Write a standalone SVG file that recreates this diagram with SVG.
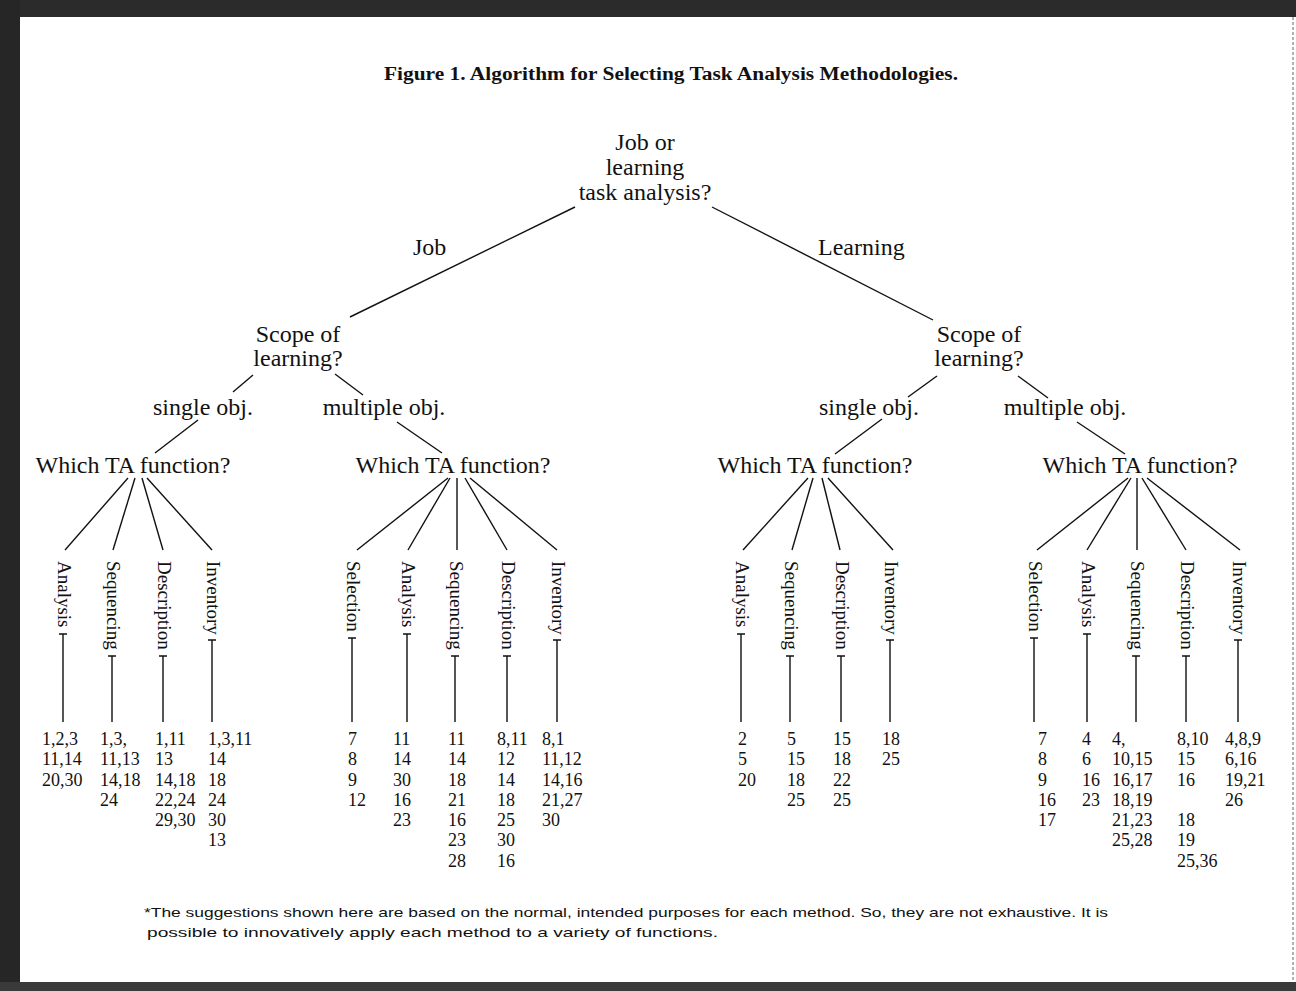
<svg xmlns="http://www.w3.org/2000/svg" width="1296" height="991" viewBox="0 0 1296 991">
<style>
text{font-family:"Liberation Serif","Times New Roman",serif;fill:#111}
.t{font-size:24px;text-anchor:middle}
.l{font-size:24px}
.v{font-size:19px}
.n{font-size:18px}
.title{font-size:18px;font-weight:bold}
.fn{font-family:"Liberation Sans",Arial,sans-serif;font-size:13px}
.c line,.c path{stroke:#111;stroke-width:1.4;fill:none}
</style>
<rect width="1296" height="991" fill="#fff"/>
<g id="border">
<rect x="0" y="0" width="1296" height="17" fill="#2b2b2b"/>
<rect x="0" y="0" width="20" height="991" fill="#262626"/>
<rect x="0" y="982" width="1296" height="9" fill="#3a3a3a"/>
<line x1="1293" y1="17" x2="1293" y2="982" stroke="#999" stroke-width="1.5" stroke-dasharray="3 2"/>
</g>
<g id="title"><text class="title" x="384" y="80" textLength="574" lengthAdjust="spacingAndGlyphs">Figure 1. Algorithm for Selecting Task Analysis Methodologies.</text></g>
<g class="c" id="connectors">
<line x1="575" y1="207" x2="350" y2="317"/>
<line x1="712" y1="207" x2="933" y2="320"/>
<line x1="253" y1="375" x2="233" y2="392"/>
<line x1="335" y1="374" x2="363" y2="395"/>
<line x1="198" y1="420" x2="155" y2="453"/>
<line x1="397" y1="422" x2="442" y2="453"/>
<line x1="937" y1="376" x2="908" y2="397"/>
<line x1="1018" y1="376" x2="1048" y2="398"/>
<line x1="882" y1="419" x2="835" y2="454"/>
<line x1="1077" y1="422" x2="1125" y2="454"/>
<line x1="128" y1="478" x2="65" y2="550"/>
<line x1="135" y1="478" x2="113" y2="550"/>
<line x1="142" y1="478" x2="163" y2="550"/>
<line x1="147" y1="478" x2="212" y2="550"/>
<line x1="448" y1="478" x2="357" y2="550"/>
<line x1="450" y1="478" x2="408" y2="550"/>
<line x1="457" y1="478" x2="457" y2="550"/>
<line x1="465" y1="478" x2="507" y2="550"/>
<line x1="470" y1="478" x2="557" y2="550"/>
<line x1="808" y1="478" x2="743" y2="550"/>
<line x1="813" y1="478" x2="792" y2="550"/>
<line x1="822" y1="478" x2="840" y2="550"/>
<line x1="828" y1="478" x2="893" y2="550"/>
<line x1="1128" y1="478" x2="1037" y2="550"/>
<line x1="1131" y1="478" x2="1087" y2="550"/>
<line x1="1137" y1="478" x2="1137" y2="550"/>
<line x1="1142" y1="478" x2="1186" y2="550"/>
<line x1="1147" y1="478" x2="1240" y2="550"/>
<path d="M59 634h8M63 634V722 M108 656h8M112 656V722 M159 656h8M163 656V722 M208 640h8M212 640V722"/>
<path d="M348 638h8M352 638V722 M403 634h8M407 634V722 M451 656h8M455 656V722 M503 656h8M507 656V722 M553 640h8M557 640V722"/>
<path d="M737 634h8M741 634V722 M786 656h8M790 656V722 M837 656h8M841 656V722 M886 640h8M890 640V722"/>
<path d="M1030 638h8M1034 638V722 M1083 634h8M1087 634V722 M1132 656h8M1136 656V722 M1182 656h8M1186 656V722 M1234 640h8M1238 640V722"/>
</g>
<g id="root"><text class="t" x="645" y="150">Job or</text><text class="t" x="645" y="175">learning</text><text class="t" x="645" y="200">task analysis?</text></g>
<g id="label-job"><text class="l" x="413" y="255">Job</text></g>
<g id="label-learning"><text class="l" x="818" y="255">Learning</text></g>
<g id="scope-job"><text class="t" x="298" y="342">Scope of</text><text class="t" x="298" y="366">learning?</text></g>
<g id="scope-learning"><text class="t" x="979" y="342">Scope of</text><text class="t" x="979" y="366">learning?</text></g>
<g id="single-job"><text class="t" x="203" y="415">single obj.</text></g>
<g id="multiple-job"><text class="t" x="384" y="415">multiple obj.</text></g>
<g id="single-learning"><text class="t" x="869" y="415">single obj.</text></g>
<g id="multiple-learning"><text class="t" x="1065" y="415">multiple obj.</text></g>
<g id="which-1"><text class="t" x="133" y="473">Which TA function?</text></g>
<g id="which-2"><text class="t" x="453" y="473">Which TA function?</text></g>
<g id="which-3"><text class="t" x="815" y="473">Which TA function?</text></g>
<g id="which-4"><text class="t" x="1140" y="473">Which TA function?</text></g>
<g id="functions-1">
<text class="v" transform="translate(58 561) rotate(90)">Analysis</text>
<text class="v" transform="translate(107 561) rotate(90)">Sequencing</text>
<text class="v" transform="translate(158 561) rotate(90)">Description</text>
<text class="v" transform="translate(207 561) rotate(90)">Inventory</text>
</g>
<g id="functions-2">
<text class="v" transform="translate(347 561) rotate(90)">Selection</text>
<text class="v" transform="translate(402 561) rotate(90)">Analysis</text>
<text class="v" transform="translate(450 561) rotate(90)">Sequencing</text>
<text class="v" transform="translate(502 561) rotate(90)">Description</text>
<text class="v" transform="translate(552 561) rotate(90)">Inventory</text>
</g>
<g id="functions-3">
<text class="v" transform="translate(736 561) rotate(90)">Analysis</text>
<text class="v" transform="translate(785 561) rotate(90)">Sequencing</text>
<text class="v" transform="translate(836 561) rotate(90)">Description</text>
<text class="v" transform="translate(885 561) rotate(90)">Inventory</text>
</g>
<g id="functions-4">
<text class="v" transform="translate(1029 561) rotate(90)">Selection</text>
<text class="v" transform="translate(1082 561) rotate(90)">Analysis</text>
<text class="v" transform="translate(1131 561) rotate(90)">Sequencing</text>
<text class="v" transform="translate(1181 561) rotate(90)">Description</text>
<text class="v" transform="translate(1233 561) rotate(90)">Inventory</text>
</g>
<g id="numbers-1" class="n">
<text class="n" x="42" y="745"><tspan x="42" y="745">1,2,3</tspan><tspan x="42" y="765">11,14</tspan><tspan x="42" y="786">20,30</tspan></text>
<text class="n" x="100" y="745"><tspan x="100" y="745">1,3,</tspan><tspan x="100" y="765">11,13</tspan><tspan x="100" y="786">14,18</tspan><tspan x="100" y="806">24</tspan></text>
<text class="n" x="155" y="745"><tspan x="155" y="745">1,11</tspan><tspan x="155" y="765">13</tspan><tspan x="155" y="786">14,18</tspan><tspan x="155" y="806">22,24</tspan><tspan x="155" y="826">29,30</tspan></text>
<text class="n" x="208" y="745"><tspan x="208" y="745">1,3,11</tspan><tspan x="208" y="765">14</tspan><tspan x="208" y="786">18</tspan><tspan x="208" y="806">24</tspan><tspan x="208" y="826">30</tspan><tspan x="208" y="846">13</tspan></text>
</g>
<g id="numbers-2">
<text class="n" x="348" y="745"><tspan x="348" y="745">7</tspan><tspan x="348" y="765">8</tspan><tspan x="348" y="786">9</tspan><tspan x="348" y="806">12</tspan></text>
<text class="n" x="393" y="745"><tspan x="393" y="745">11</tspan><tspan x="393" y="765">14</tspan><tspan x="393" y="786">30</tspan><tspan x="393" y="806">16</tspan><tspan x="393" y="826">23</tspan></text>
<text class="n" x="448" y="745"><tspan x="448" y="745">11</tspan><tspan x="448" y="765">14</tspan><tspan x="448" y="786">18</tspan><tspan x="448" y="806">21</tspan><tspan x="448" y="826">16</tspan><tspan x="448" y="846">23</tspan><tspan x="448" y="867">28</tspan></text>
<text class="n" x="497" y="745"><tspan x="497" y="745">8,11</tspan><tspan x="497" y="765">12</tspan><tspan x="497" y="786">14</tspan><tspan x="497" y="806">18</tspan><tspan x="497" y="826">25</tspan><tspan x="497" y="846">30</tspan><tspan x="497" y="867">16</tspan></text>
<text class="n" x="542" y="745"><tspan x="542" y="745">8,1</tspan><tspan x="542" y="765">11,12</tspan><tspan x="542" y="786">14,16</tspan><tspan x="542" y="806">21,27</tspan><tspan x="542" y="826">30</tspan></text>
</g>
<g id="numbers-3">
<text class="n" x="738" y="745"><tspan x="738" y="745">2</tspan><tspan x="738" y="765">5</tspan><tspan x="738" y="786">20</tspan></text>
<text class="n" x="787" y="745"><tspan x="787" y="745">5</tspan><tspan x="787" y="765">15</tspan><tspan x="787" y="786">18</tspan><tspan x="787" y="806">25</tspan></text>
<text class="n" x="833" y="745"><tspan x="833" y="745">15</tspan><tspan x="833" y="765">18</tspan><tspan x="833" y="786">22</tspan><tspan x="833" y="806">25</tspan></text>
<text class="n" x="882" y="745"><tspan x="882" y="745">18</tspan><tspan x="882" y="765">25</tspan></text>
</g>
<g id="numbers-4">
<text class="n" x="1038" y="745"><tspan x="1038" y="745">7</tspan><tspan x="1038" y="765">8</tspan><tspan x="1038" y="786">9</tspan><tspan x="1038" y="806">16</tspan><tspan x="1038" y="826">17</tspan></text>
<text class="n" x="1082" y="745"><tspan x="1082" y="745">4</tspan><tspan x="1082" y="765">6</tspan><tspan x="1082" y="786">16</tspan><tspan x="1082" y="806">23</tspan></text>
<text class="n" x="1112" y="745"><tspan x="1112" y="745">4,</tspan><tspan x="1112" y="765">10,15</tspan><tspan x="1112" y="786">16,17</tspan><tspan x="1112" y="806">18,19</tspan><tspan x="1112" y="826">21,23</tspan><tspan x="1112" y="846">25,28</tspan></text>
<text class="n" x="1177" y="745"><tspan x="1177" y="745">8,10</tspan><tspan x="1177" y="765">15</tspan><tspan x="1177" y="786">16</tspan><tspan x="1177" y="826">18</tspan><tspan x="1177" y="846">19</tspan><tspan x="1177" y="867">25,36</tspan></text>
<text class="n" x="1225" y="745"><tspan x="1225" y="745">4,8,9</tspan><tspan x="1225" y="765">6,16</tspan><tspan x="1225" y="786">19,21</tspan><tspan x="1225" y="806">26</tspan></text>
</g>
<g id="footnote">
<text class="fn" x="144" y="917" textLength="964" lengthAdjust="spacingAndGlyphs">*The suggestions shown here are based on the normal, intended purposes for each method. So, they are not exhaustive. It is</text>
<text class="fn" x="147" y="937" textLength="571" lengthAdjust="spacingAndGlyphs">possible to innovatively apply each method to a variety of functions.</text>
</g>
</svg>
